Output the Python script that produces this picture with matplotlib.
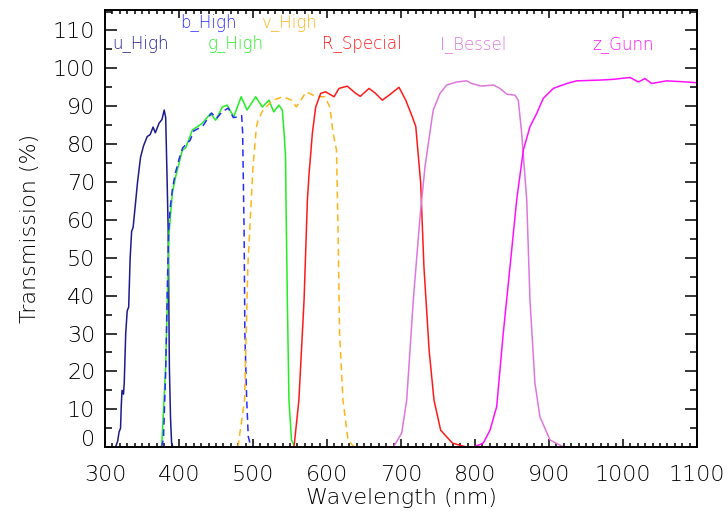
import matplotlib
matplotlib.use("Agg")
import matplotlib.pyplot as plt
from matplotlib.ticker import MultipleLocator, FixedFormatter

# Filter transmission curves (wavelength in nm, transmission in %)
u_wl = [310, 314, 317, 319, 321, 322, 323, 325, 326, 328, 330, 332, 334, 336, 338,
        341, 344, 348, 352, 357, 361, 365, 368, 373, 377, 380, 382, 384, 385.5, 387,
        388.5, 390, 392, 396]
u_tr = [0, 0, 1.5, 4, 5, 11, 15, 14, 17, 30, 36, 37, 50, 57, 58,
        64, 70, 76.5, 79.5, 82, 82.5, 84.5, 83, 85.5, 86.5, 89, 87, 70, 56, 21,
        8, 1, 0, 0]

b_wl = [376, 379, 382, 384, 386, 388, 391, 395, 400, 405, 410, 415, 420, 425, 433,
        438, 444, 451, 458, 466.6, 473.4, 480, 484.7, 486, 488, 489, 491.5, 493.6,
        497, 500]
b_tr = [0, 2, 20, 40, 57, 63, 68, 72.3, 76, 79, 80, 81, 83.5, 84, 85,
        86.5, 88.2, 86.8, 88.5, 89.5, 87, 87.2, 87.5, 83, 56.5, 30.1, 12.4, 2.8,
        0.3, 0]

g_wl = [376.5, 382, 386.5, 391, 395.5, 404.5, 409, 418, 431.5, 442.7, 449.5, 458.5,
        465, 474, 484, 492, 503.6, 512.6, 521.6, 528, 535, 539.6, 542, 544, 544.6,
        546.4, 548.6, 552, 556.7, 562]
g_tr = [0, 21.2, 56.4, 67, 71.4, 78.4, 79, 83.7, 85.5, 88.1, 86.3, 89.8,
        90.3, 87.2, 92.5, 89, 92.5, 89.8, 91.6, 88.5, 90.3, 89, 83, 76.6, 65,
        38.8, 12.4, 1.9, 0, 0]

v_wl = [479.6, 488.6, 493, 500, 504.6, 506.8, 513.5, 527, 540.5, 551.8, 558.6, 572,
        585.8, 597, 603.8, 608.2, 612.8, 615, 617, 621.6, 628.4, 637, 653]
v_tr = [0, 12.4, 47.6, 74, 84.6, 86.3, 89, 91.6, 92.5, 91.6, 89.8, 93.8,
        92.5, 92.5, 89.8, 83, 78.4, 56.5, 30.1, 12.4, 1.9, 0, 0]

r_wl = [555.4, 562, 569, 573.5, 575.7, 580.3, 584.7, 591.5, 598.2, 609.5, 616.2,
        627.4, 638.8, 645, 656.8, 665, 674.7, 683.8, 697.3, 706.4, 715.3, 720,
        726.6, 731, 738, 744.6, 753.6, 769.3, 787.4, 863]
r_tr = [0, 12.4, 38.8, 65.2, 72, 83, 89.8, 93.4, 93.8, 92.5, 94.7,
        95.3, 93.4, 92.6, 94.7, 93.5, 91.6, 92.9, 95, 91.6, 87.2, 84.6,
        69.7, 47.6, 25.6, 12.4, 4.5, 1.1, 0.1, 0]

i_wl = [689.6, 700.9, 707.7, 716.6, 725.7, 732.4, 741.5, 743.6, 752.7, 761.8, 775.3,
        788.8, 795.5, 809, 824.7, 833.8, 842.8, 854, 858.5, 863, 869.9, 874.3,
        881, 887.8, 901.4, 919, 1100]
i_tr = [0, 3.7, 12.4, 38.8, 60.8, 74, 86.3, 89, 93.4, 95.6, 96.4,
        96.7, 96, 95.3, 95.6, 94.7, 93.2, 92.9, 91.6, 83, 65.2, 38.8,
        16.9, 8, 1.9, 0.1, 0]

z_wl = [797.7, 811.2, 820.3, 829.3, 838.2, 847.3, 856.3, 865.3, 874.3, 883.4, 892.3,
        905.8, 923.9, 937.4, 968.9, 986.9, 1009.5, 1020.7, 1029.7, 1038.8, 1059,
        1086, 1100]
z_tr = [0, 1.1, 4.5, 10.7, 30.1, 47.6, 65.2, 78.4, 84.6, 88.1, 92.1,
        94.7, 96, 96.7, 96.9, 97.1, 97.6, 96.4, 97.3, 96, 96.7,
        96.4, 96.2]

filter_names = ["u_High", "g_High", "b_High", "v_High", "R_Special", "I_Bessel", "z_Gunn"]

x_ticks = [300, 400, 500, 600, 700, 800, 900, 1000, 1100]
y_ticks = [0, 10, 20, 30, 40, 50, 60, 70, 80, 90, 100, 110]

styles = {
    "u_High":    dict(color="#1c1c8a", ls="-"),
    "b_High":    dict(color="#2a2aff", ls=(0, (4.5, 3))),
    "g_High":    dict(color="#22ee22", ls="-"),
    "v_High":    dict(color="#ffb31a", ls=(0, (4.5, 3))),
    "R_Special": dict(color="#ff1a1a", ls="-"),
    "I_Bessel":  dict(color="#dd77dd", ls="-"),
    "z_Gunn":    dict(color="#ff11ff", ls="-"),
}
curves = {
    "u_High": (u_wl, u_tr), "b_High": (b_wl, b_tr), "g_High": (g_wl, g_tr),
    "v_High": (v_wl, v_tr), "R_Special": (r_wl, r_tr), "I_Bessel": (i_wl, i_tr),
    "z_Gunn": (z_wl, z_tr),
}
# name label placement: (left edge in nm, baseline in %)
label_pos = {
    "u_High": (309.5, 105.2), "b_High": (401, 110.6), "v_High": (512, 110.6),
    "g_High": (439, 105.2), "R_Special": (593, 105.2), "I_Bessel": (753, 105.2),
    "z_Gunn": (958, 105.2),
}

plt.rcParams["font.family"] = ["DejaVu Sans"]
plt.rcParams["font.weight"] = "light"
plt.rcParams["axes.labelweight"] = "light"

fig = plt.figure(figsize=(7.28, 5.20), dpi=100)
ax = fig.add_axes([105 / 728, 1 - 447.2 / 520, 592 / 728, 437.2 / 520])

for name in filter_names:
    wl, tr = curves[name]
    st = styles[name]
    ax.plot(wl, tr, color=st["color"], linestyle=st["ls"], lw=1.1)
    lx, ly = label_pos[name]
    ax.text(lx, ly, name, color=st["color"], fontsize=12, ha="left", va="baseline")

ax.set_xlim(300, 1100)
ax.set_ylim(0, 115.4)
ax.set_xticks(x_ticks)
ax.set_yticks(y_ticks)
ax.xaxis.set_minor_locator(MultipleLocator(10))
ax.yaxis.set_minor_locator(MultipleLocator(5))

# zero label sits a little above the bottom spine
ax.yaxis.set_major_formatter(FixedFormatter([""] + [str(v) for v in y_ticks[1:]]))
ax.annotate("0", xy=(0, 0), xycoords=("axes fraction", "data"),
            xytext=(-10, 7), textcoords="offset pixels",
            ha="right", va="center", fontsize=16)

for s in ax.spines.values():
    s.set_linewidth(1.4)
ax.tick_params(axis="both", which="both", direction="in", top=True, right=True,
               width=1.1, labelsize=16)
ax.tick_params(axis="x", which="major", length=6, pad=12.5)
ax.tick_params(axis="x", which="minor", length=3)
ax.tick_params(axis="y", which="major", length=8.4, pad=7)
ax.tick_params(axis="y", which="minor", length=4.7)

ax.set_xlabel("Wavelength (nm)", fontsize=16)
ax.set_ylabel("Transmission (%)", fontsize=16)
ax.xaxis.set_label_coords(0.5, -0.093)
ax.yaxis.set_label_coords(-0.11, 0.5)

fig.savefig("out.png", dpi=100)
